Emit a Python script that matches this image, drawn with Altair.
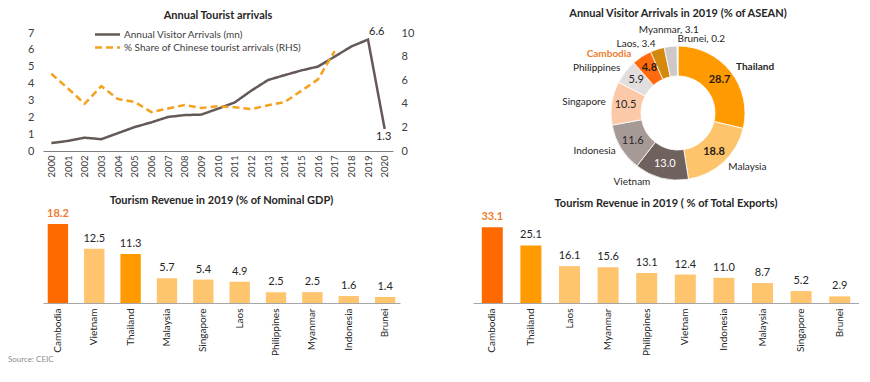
import altair as alt
import pandas as pd

FONT = "Lato"
TXT = "#262626"

# ---------------- data ----------------
years = [str(y) for y in range(2000, 2021)]
visitor_arrivals = [0.47, 0.60, 0.79, 0.70, 1.06, 1.42, 1.70, 2.02, 2.13, 2.16, 2.51,
                    2.88, 3.58, 4.21, 4.50, 4.78, 5.01, 5.60, 6.20, 6.61, 1.31]
china_share = [6.55, 5.3, 4.0, 5.5, 4.4, 4.15, 3.3, 3.6, 3.9, 3.65, 3.8,
               3.7, 3.55, 3.87, 4.15, 5.1, 6.07, 8.47]

donut_names = ["Thailand", "Malaysia", "Vietnam", "Indonesia", "Singapore",
               "Philippines", "Cambodia", "Laos", "Myanmar", "Brunei"]
donut_shares = [28.7, 18.8, 13.0, 11.6, 10.5, 5.9, 4.8, 3.4, 3.1, 0.2]
donut_colors = ["#FF9A00", "#FDC46C", "#6E615E", "#A69A96", "#FBC9A8",
                "#E3DEDE", "#FF6A0D", "#D4880C", "#CFC8C8", "#EDEDED"]

gdp_countries = ["Cambodia", "Vietnam", "Thailand", "Malaysia", "Singapore",
                 "Laos", "Philippines", "Myanmar", "Indonesia", "Brunei"]
gdp_values = [18.2, 12.5, 11.3, 5.7, 5.4, 4.9, 2.5, 2.5, 1.6, 1.4]

exp_countries = ["Cambodia", "Thailand", "Laos", "Myanmar", "Philippines",
                 "Vietnam", "Indonesia", "Malaysia", "Singapore", "Brunei"]
exp_values = [33.1, 25.1, 16.1, 15.6, 13.1, 12.4, 11.0, 8.7, 5.2, 2.9]

S1 = "Annual Visitor Arrivals (mn)"
S2 = "% Share of Chinese tourist arrivals (RHS)"

# ---------------- line chart ----------------
line_df = pd.concat([
    pd.DataFrame({"year": years, "value": visitor_arrivals, "series": S1}),
    pd.DataFrame({"year": years[:len(china_share)], "value": china_share, "series": S2}),
], ignore_index=True)

xenc = alt.X("year:O", scale=alt.Scale(type="point", padding=0.5),
             axis=alt.Axis(title=None, labelAngle=-90, labelFontSize=9.5, labelColor="#404040",
                           domainColor="#7f7f7f", ticks=False, labelPadding=4, grid=False))
color_scale = alt.Scale(domain=[S1, S2], range=["#655957", "#F4A21E"])
dash_scale = alt.Scale(domain=[S1, S2], range=[[1, 0], [7, 4]])
leg = alt.Legend(title=None, orient="none", legendX=58, legendY=-5, symbolType="M-2.5,0H2.5",
                 symbolSize=100, symbolStrokeWidth=2.5, labelFontSize=10, labelColor="#404040",
                 rowPadding=1, labelOffset=10, labelLimit=300, padding=0)
left_axis = alt.Axis(title=None, orient="left", values=list(range(8)), domain=False, ticks=False,
                     grid=False, labelFontSize=11, labelColor="#404040", labelPadding=9)
left_y = alt.Y("value:Q", scale=alt.Scale(domain=[0, 7]), axis=left_axis)

base_line = alt.Chart(line_df)
l1 = base_line.transform_filter(alt.datum.series == S1).mark_line(strokeWidth=2.5).encode(
    x=xenc, y=left_y,
    color=alt.Color("series:N", scale=color_scale, legend=leg),
    strokeDash=alt.StrokeDash("series:N", scale=dash_scale, legend=leg),
)
ann19 = base_line.transform_filter((alt.datum.series == S1) & (alt.datum.year == "2019")).mark_text(
    align="left", baseline="middle", dx=1, dy=-8, fontSize=11, color=TXT).encode(
    x=xenc, y=left_y, text=alt.Text("value:Q", format=".1f"))
ann20 = base_line.transform_filter((alt.datum.series == S1) & (alt.datum.year == "2020")).mark_text(
    align="center", baseline="middle", dx=-1, dy=8, fontSize=11, color=TXT).encode(
    x=xenc, y=left_y, text=alt.Text("value:Q", format=".1f"))
spacer = alt.Chart(alt.Data(values=[{}])).mark_text(text=" ", opacity=0).encode(
    x=alt.value(-35), y=alt.value(0))
l2 = base_line.transform_filter(alt.datum.series == S2).mark_line(strokeWidth=2.5).encode(
    x=xenc,
    y=alt.Y("value:Q", scale=alt.Scale(domain=[0, 10]),
            axis=alt.Axis(title=None, orient="right", values=[0, 2, 4, 6, 8, 10], domain=False, ticks=False,
                          grid=False, labelFontSize=11, labelColor="#404040", labelPadding=8)),
    color=alt.Color("series:N", scale=color_scale, legend=leg),
    strokeDash=alt.StrokeDash("series:N", scale=dash_scale, legend=leg),
)
line_chart = alt.layer(alt.layer(l1, ann19, ann20, spacer), l2).resolve_scale(y="independent").properties(
    width=350, height=118,
    title=alt.TitleParams("Annual Tourist arrivals", fontSize=11, fontWeight="bold", color=TXT,
                          offset=5, frame="group"))

# ---------------- donut ----------------
inner_skip = {"Laos", "Myanmar", "Brunei"}
inner_bold = {"Thailand", "Malaysia", "Cambodia"}
with_value = {"Laos", "Myanmar", "Brunei"}
ddf = pd.DataFrame({"name": donut_names, "share": donut_shares, "idx": list(range(len(donut_names)))})
ddf["outer"] = [f"{n}, {v}" if n in with_value else n for n, v in zip(donut_names, donut_shares)]
ddf["inner"] = ["" if (n in inner_skip or n in inner_bold) else f"{v:.1f}"
                for n, v in zip(donut_names, donut_shares)]
ddf["inner_b"] = [f"{v:.1f}" if n in inner_bold else "" for n, v in zip(donut_names, donut_shares)]
ddf["inner_col"] = ["light" if n == "Vietnam" else "darktxt" for n in donut_names]


def pick(names):
    return [o if n in names else "" for n, o in zip(donut_names, ddf["outer"])]


ddf["t_right"] = pick({"Malaysia", "Brunei"})
ddf["t_right_b"] = pick({"Thailand"})
ddf["t_left"] = pick({"Indonesia", "Singapore", "Philippines", "Laos"})
ddf["t_left_b"] = pick({"Cambodia"})
ddf["t_viet"] = pick({"Vietnam"})
ddf["t_top"] = pick({"Myanmar"})

theta = alt.Theta("share:Q", stack=True)
order = alt.Order("idx:Q", sort="ascending")
dbase = alt.Chart(ddf)
arcs = dbase.mark_arc(innerRadius=37, outerRadius=67, stroke="white", strokeWidth=0.8).encode(
    theta=theta, order=order,
    fill=alt.Fill("name:N", scale=alt.Scale(domain=donut_names, range=donut_colors), legend=None))
inner = dbase.mark_text(radius=53, fontSize=11, baseline="middle").encode(
    theta=theta, order=order, text="inner:N",
    fill=alt.Fill("inner_col:N", scale=alt.Scale(domain=["light", "darktxt"], range=["white", TXT]),
                  legend=None))
inner_b = dbase.mark_text(radius=53, fontSize=11, baseline="middle", fontWeight="bold",
                          color="#2b1d10").encode(theta=theta, order=order, text="inner_b:N")


def outer_layer(field, radius, align, color=TXT, weight="normal", dx=0, dy=0):
    return dbase.mark_text(radius=radius, align=align, baseline="middle", fontSize=10, color=color,
                           fontWeight=weight, dx=dx, dy=dy).encode(theta=theta, order=order,
                                                                    text=f"{field}:N")


donut = alt.layer(
    arcs, inner, inner_b,
    outer_layer("t_right", 74, "left"),
    outer_layer("t_right_b", 74, "left", weight="bold"),
    outer_layer("t_left", 73, "right"),
    outer_layer("t_left_b", 75, "right", color="#ED7D31", weight="bold", dx=-6, dy=4),
    outer_layer("t_viet", 71, "right", dx=-10),
    outer_layer("t_top", 84, "center"),
).resolve_scale(fill="independent").properties(
    width=272, height=160,
    title=alt.TitleParams("Annual Visitor Arrivals in 2019 (% of ASEAN)", fontSize=11,
                          fontWeight="bold", color=TXT, offset=5, frame="group"))

# ---------------- bars ----------------
BAR_COLORS = ["#FF6A00", "#FF9A00", "#FFC46E"]


def bar_chart(countries, values, dmax, width, pi, po, title, extra=None):
    df = pd.DataFrame({"country": countries, "value": values})
    df["grp"] = [c if c in ("Cambodia", "Thailand") else "Other" for c in countries]
    base = alt.Chart(df).encode(
        x=alt.X("country:N", sort=countries, scale=alt.Scale(paddingInner=pi, paddingOuter=po),
                axis=alt.Axis(title=None, labelAngle=-90, labelFontSize=10, labelColor=TXT, ticks=False,
                              labelPadding=5, domainColor="#A6A6A6")),
        y=alt.Y("value:Q", scale=alt.Scale(domain=[0, dmax]), axis=None))
    bars = base.mark_bar().encode(
        fill=alt.Fill("grp:N", scale=alt.Scale(domain=["Cambodia", "Thailand", "Other"], range=BAR_COLORS),
                      legend=None))
    lab = base.transform_filter(alt.datum.country != "Cambodia").mark_text(
        dy=-5, baseline="bottom", fontSize=11, color=TXT).encode(text=alt.Text("value:Q", format=".1f"))
    lab_c = base.transform_filter(alt.datum.country == "Cambodia").mark_text(
        dy=-5, baseline="bottom", fontSize=11, color="#ED7D31", fontWeight="bold").encode(
        text=alt.Text("value:Q", format=".1f"))
    layers = [bars, lab, lab_c]
    if extra is not None:
        layers.append(extra)
    return alt.layer(*layers).properties(
        width=width, height=88,
        title=alt.TitleParams(title, fontSize=11, fontWeight="bold", color=TXT, offset=2, frame="group"))


source = alt.Chart(alt.Data(values=[{}])).mark_text(
    text="Source: CEIC", align="left", baseline="middle", fontSize=8, color="#8c8c8c").encode(
    x=alt.value(-35), y=alt.value(145))

gdp_chart = bar_chart(gdp_countries, gdp_values, 20.3, 357, 0.44, 0.13,
                      "Tourism Revenue in 2019 (% of Nominal GDP)", extra=source)
exp_chart = bar_chart(exp_countries, exp_values, 38.4, 386, 0.456, 0.228,
                      "Tourism Revenue in 2019 ( % of Total Exports)")

row1 = alt.hconcat(line_chart, donut, spacing=128).resolve_scale(
    color="independent", fill="independent", strokeDash="independent")
row2 = alt.hconcat(gdp_chart, exp_chart, spacing=73).resolve_scale(fill="independent")

chart = alt.vconcat(row1, row2, spacing=-5).resolve_scale(
    color="independent", fill="independent", strokeDash="independent").properties(
    padding={"left": 0, "top": 0, "right": 0, "bottom": 0}
).configure_view(stroke=None).configure_axis(labelFont=FONT).configure_text(font=FONT).configure_title(
    font=FONT).configure_legend(labelFont=FONT)

chart.save("out.html", embed_options={"renderer": "svg", "actions": False})
